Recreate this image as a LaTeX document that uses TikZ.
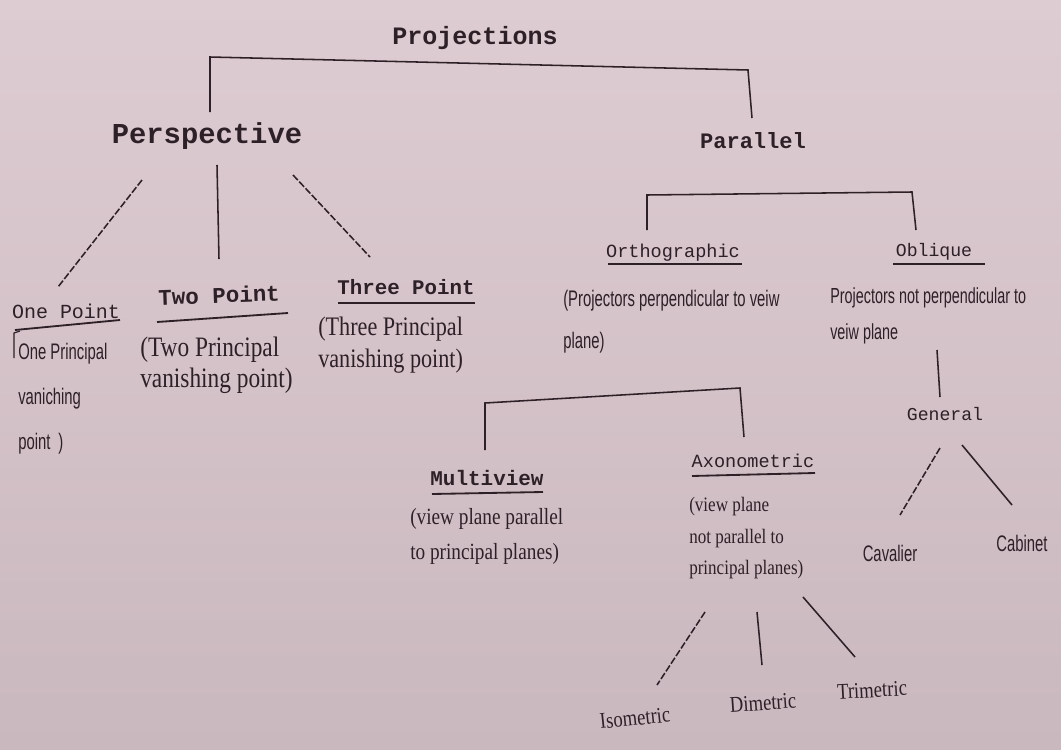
\documentclass[tikz,border=0pt]{standalone}
\usepackage{fontspec}
\setmainfont{Liberation Serif}
\newfontfamily\tw{Liberation Mono}
\newfontfamily\cs[FakeStretch=0.66]{Liberation Sans}
\newfontfamily\cser[FakeStretch=0.83]{Liberation Serif}
\newcommand{\myTw}[1]{\tw\fontsize{#1}{#1}\selectfont}
\newcommand{\myCs}[2]{\cs\fontsize{#1}{#2}\selectfont}
\newcommand{\myCser}[2]{\cser\fontsize{#1}{#2}\selectfont}
\definecolor{ink}{RGB}{45,32,38}
\definecolor{bgtop}{RGB}{221,204,209}
\definecolor{bgbot}{RGB}{202,184,191}
\tikzset{
  head/.style={text=ink, inner sep=1pt, text depth=0pt},
  leaf/.style={text=ink, inner sep=1pt},
  desc/.style={text=ink, inner sep=0pt, align=left, anchor=north west},
  link/.style={draw=ink, line width=1.1pt},
  dlink/.style={link, dash pattern=on 5pt off 1.5pt},
  uline/.style={draw=ink, line width=1.3pt},
}
\begin{document}
\begin{tikzpicture}[x=0.025cm,y=-0.025cm]
\shade[top color=bgtop, bottom color=bgbot] (0,0) rectangle (1061,750);
\useasboundingbox (0,0) rectangle (1061,750);

% headings
\node[head, font={\myTw{17.8}\bfseries}] (proj) at (475,35) {Projections};
\node[head, font={\myTw{20.5}\bfseries}] (persp) at (207,133) {Perspective};
\node[head, font={\myTw{15.7}\bfseries}] (par) at (753,140) {Parallel};
\node[head, font={\myTw{14.2}}] (onept) at (66,311) {One Point};
\node[head, font={\myTw{16}\bfseries}, rotate=2] (twopt) at (219,295) {Two Point};
\node[head, font={\myTw{14.8}\bfseries}] (threept) at (406,287) {Three Point};
\node[head, font={\myTw{13.2}}] (ortho) at (673,251) {Orthographic};
\node[head, font={\myTw{12.9}}] (obl) at (934,250) {Oblique};
\node[head, font={\myTw{12.9}}] (gen) at (945,414) {General};
\node[head, font={\myTw{14.9}\bfseries}] (multi) at (487,478) {Multiview};
\node[head, font={\myTw{13.2}}] (axo) at (753,461) {Axonometric};

% leaves
\node[leaf, font={\myCs{16}{16}}] (cav) at (890,553) {Cavalier};
\node[leaf, font={\myCs{16}{16}}] (cab) at (1022,543) {Cabinet};
\node[leaf, font={\myCser{16}{16}}, rotate=6] (iso) at (635,718) {Isometric};
\node[leaf, font={\myCser{16}{16}}, rotate=4] (dim) at (763,703) {Dimetric};
\node[leaf, font={\myCser{16}{16}}, rotate=3] (tri) at (872,690) {Trimetric};

% descriptions
\node[desc, font={\myCs{16}{32}}] (onedesc) at (18,343) {One Principal\\vaniching\\point \,)};
\node[desc, font={\myCser{20}{22}}] (twodesc) at (140,337) {(Two Principal\\vanishing point)};
\node[desc, font={\myCser{19}{22.5}}] (threedesc) at (318,317) {(Three Principal\\vanishing point)};
\node[desc, font={\myCs{16}{30}}] (orthodesc) at (563,290) {(Projectors perpendicular to veiw\\plane)};
\node[desc, font={\myCs{15.5}{26}}] (obldesc) at (830,287) {Projectors not perpendicular to\\veiw plane};
\node[desc, font={\myCser{16.5}{25}}] (multidesc) at (410,508) {(view plane parallel\\to principal planes)};
\node[desc, font={\myCser{14.6}{22.4}}] (axodesc) at (689,497) {(view plane\\not parallel to\\principal planes)};

% underlines
\draw[uline] ([shift={(-51,19)}]onept.center) -- ([shift={(54,9)}]onept.center);
\draw[uline] ([shift={(-62,27)}]twopt.center) -- ([shift={(69,18)}]twopt.center);
\draw[uline] ([shift={(-68,16)}]threept.center) -- ([shift={(69,16)}]threept.center);
\draw[uline] ([shift={(-65,13)}]ortho.center) -- ([shift={(69,13)}]ortho.center);
\draw[uline] ([shift={(-41,14)}]obl.center) -- ([shift={(51,14)}]obl.center);
\draw[uline] ([shift={(-55,16)}]multi.center) -- ([shift={(56,14)}]multi.center);
\draw[uline] ([shift={(-61,15)}]axo.center) -- ([shift={(62,12)}]axo.center);
% bracket mark before One Principal
\draw[link, line width=0.8pt] ([shift={(-4,15)}]onedesc.north west) -- ([shift={(-4,-10)}]onedesc.north west) -- ([shift={(2,-12)}]onedesc.north west);

% bracket corners
\coordinate (pj1) at (210,57);
\coordinate (pj2) at (748,70);
\coordinate (pa1) at (647,195);
\coordinate (pa2) at (912,192);
\coordinate (or1) at (485,403);
\coordinate (or2) at (740,388);

% connectors
\draw[link] ([shift={(3,-21)}]persp.center) -- (pj1) -- (pj2) -- ([shift={(-1,-22)}]par.center);
\draw[dlink] ([shift={(-65,47)}]persp.center) -- ([shift={(-8,-24)}]onept.center);
\draw[link] ([shift={(10,32)}]persp.center) -- ([shift={(0,-36)}]twopt.center);
\draw[dlink] ([shift={(86,42)}]persp.center) -- ([shift={(-36,-30)}]threept.center);
\draw[link] ([shift={(-26,-21)}]ortho.center) -- (pa1) -- (pa2) -- ([shift={(-18,-20)}]obl.center);
\draw[link] ([shift={(3,100)}]obl.center) -- ([shift={(-5,-17)}]gen.center);
\draw[dlink] ([shift={(-5,34)}]gen.center) -- ([shift={(10,-38)}]cav.center);
\draw[link] ([shift={(17,31)}]gen.center) -- ([shift={(-10,-38)}]cab.center);
\draw[link] ([shift={(-2,-28)}]multi.center) -- (or1) -- (or2) -- ([shift={(-9,-24)}]axo.center);
\draw[dlink] ([shift={(-48,151)}]axo.center) -- ([shift={(22,-33)}]iso.center);
\draw[link] ([shift={(4,151)}]axo.center) -- ([shift={(-1,-38)}]dim.center);
\draw[link] ([shift={(50,136)}]axo.center) -- ([shift={(-17,-33)}]tri.center);
\end{tikzpicture}
\end{document}
